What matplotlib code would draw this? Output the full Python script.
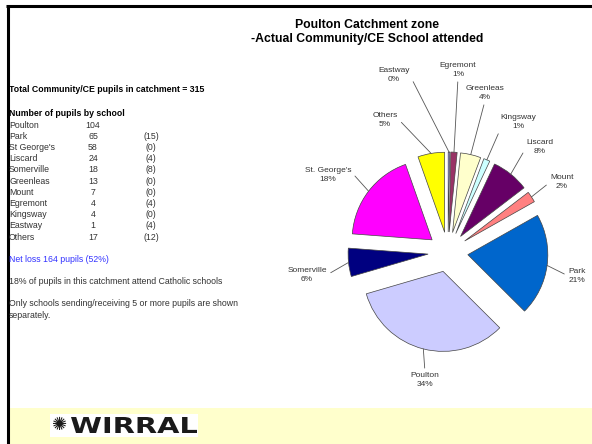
# Poulton catchment zone - pie chart of schools attended
import numpy as np
import matplotlib.pyplot as plt
from matplotlib.textpath import TextPath
from matplotlib.patches import PathPatch, Rectangle
from matplotlib.font_manager import FontProperties
import matplotlib.transforms as mtransforms

plt.rcParams['font.family'] = ['Liberation Sans', 'DejaVu Sans']

# table on the left (order as listed)
schools = ["Poulton", "Park", "St George's", "Liscard", "Somerville", "Greenleas",
           "Mount", "Egremont", "Kingsway", "Eastway", "Others"]
pupils = [104, 65, 58, 24, 18, 13, 7, 4, 4, 1, 17]
incoming = [None, 15, 0, 4, 8, 0, 0, 4, 0, 4, 12]

# pie (Excel order, clockwise from 12 o'clock)
pie_schools = ["Eastway", "Egremont", "Greenleas", "Kingsway", "Liscard", "Mount",
               "Park", "Poulton", "Somerville", "St George's", "Others"]
pie_names = ["Eastway", "Egremont", "Greenleas", "Kingsway", "Liscard", "Mount",
             "Park", "Poulton", "Somerville", "St. George's", "Others"]
pie_pct = [0, 1, 4, 1, 8, 2, 21, 34, 6, 18, 5]
pie_colors = ['#9999FF', '#993366', '#FFFFCC', '#CCFFFF', '#660066', '#FF8080',
              '#0066CC', '#CCCCFF', '#000080', '#FF00FF', '#FFFF00']

W, H = 592, 444
FS = 6.3  # left-hand text size

fig = plt.figure(figsize=(W / 100, H / 100), dpi=100)
ax = fig.add_axes([0, 0, 1, 1])


def Y(y):
    # screen (top-down) pixel to axes y
    return H - y


# pie - axes works in pixels, so explode is given in pixels too
values = [pupils[schools.index(s)] for s in pie_schools]
cx, cy, R = 448, Y(252), 80
wedges, _ = ax.pie(values, colors=pie_colors, startangle=90, counterclock=False,
                   explode=[0.25 * R] * len(values), center=(cx, cy), radius=R,
                   wedgeprops=dict(edgecolor='#444444', linewidth=0.5))

# label positions (text centres, screen pixels) and where the leader starts on the text
label_pos = [(394, 75), (458, 70), (485, 93), (518, 122), (540, 147), (562, 182),
             (577, 276), (425, 380), (307, 275), (328, 175), (385, 120)]
rel = [(1, 0.5), (0.5, 0), (0.5, 0), (0, 0), (0, 0.5), (0, 0.5),
       (0, 0.5), (0.5, 1), (1, 0.5), (1, 0.7), (1, 0.6)]

for w, name, pct, (lx, ly), rp in zip(wedges, pie_names, pie_pct, label_pos, rel):
    mid = np.deg2rad((w.theta1 + w.theta2) / 2)
    ox, oy = w.center
    anchor = (ox + R * np.cos(mid), oy + R * np.sin(mid))
    ax.annotate(f"{name}\n{pct}%", xy=anchor, xytext=(lx, Y(ly)),
                ha='center', va='center', fontsize=6, color='#333333',
                linespacing=1.3, annotation_clip=False,
                arrowprops=dict(arrowstyle='-', color='#555555', lw=0.6,
                                shrinkA=1, shrinkB=0, relpos=rp))

ax.set_xlim(0, W)
ax.set_ylim(0, H)
ax.set_aspect('auto')
ax.axis('off')

# title
ax.text(367, Y(32), "Poulton Catchment zone\n-Actual Community/CE School attended",
        ha='center', va='center', fontsize=8.8, fontweight='bold', linespacing=1.3)

# left text block
ax.text(9, Y(90), "Total Community/CE pupils in catchment = 315", fontsize=FS,
        fontweight='bold', va='center')
ax.text(9, Y(113), "Number of pupils by school", fontsize=FS, fontweight='bold',
        va='center')
for i, (s, p, inc) in enumerate(zip(schools, pupils, incoming)):
    y = Y(125 + i * 11.2)
    ax.text(9, y, s, fontsize=FS, color='#333333', va='center')
    ax.text(93, y, str(p), fontsize=FS, color='#333333', va='center', ha='center')
    if inc is not None:
        ax.text(151, y, f"({inc})", fontsize=FS, color='#333333', va='center',
                ha='center')

ax.text(9, Y(260), "Net loss 164 pupils (52%)", fontsize=FS, color='#3333FF',
        va='center')
ax.text(9, Y(282), "18% of pupils in this catchment attend Catholic schools",
        fontsize=FS, color='#333333', va='center')
ax.text(9, Y(303), "Only schools sending/receiving 5 or more pupils are shown",
        fontsize=FS, color='#333333', va='center')
ax.text(9, Y(316), "separately.", fontsize=FS, color='#333333', va='center')

# bottom band with logo
ax.add_patch(Rectangle((9, 0), W - 9, Y(408), facecolor='#FFFFCC', edgecolor='none'))
ax.add_patch(Rectangle((50, Y(437)), 148, 23, facecolor='white', edgecolor='none'))
ax.text(60, Y(425), "\u273a", fontsize=13, family='DejaVu Sans', ha='center',
        va='center', color='#1a1a1a')
tp = TextPath((0, 0), "WIRRAL", size=1,
              prop=FontProperties(family='DejaVu Sans', weight='bold'))
bb = tp.get_extents()
tr = (mtransforms.Affine2D().translate(-bb.x0, -bb.y0)
      .scale(126 / bb.width, 16 / bb.height).translate(71, Y(433)))
ax.add_patch(PathPatch(tr.transform_path(tp), facecolor='#1a1a1a', edgecolor='none'))

# frame lines
ax.plot([6, W], [Y(6.5), Y(6.5)], color='black', lw=2.2, solid_capstyle='butt')
ax.plot([7.5, 7.5], [0, Y(5.5)], color='black', lw=2.2, solid_capstyle='butt')

plt.savefig("out.png", dpi=100)
